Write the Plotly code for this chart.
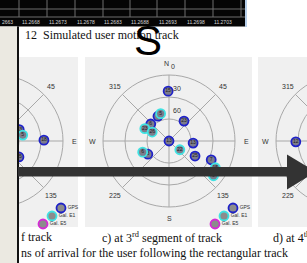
import numpy as np
import plotly.graph_objects as go

W, H = 307, 263
R = 66  # pixel radius of the elevation-0 circle

# ---------------- data ----------------
top_tick_labels = ["2663", "11.2668", "11.2673", "11.2678", "11.2683",
                   "11.2688", "11.2693", "11.2698", "11.2703"]

# panel b (2nd segment, partly visible)
gps_b_prn = ["18", "13", "25"]
gps_b_az = [89, 63, 126]
gps_b_el = [26, 56, 53]
gal_b_prn = ["5"]
gal_b_az = [77]
gal_b_el = [54]

# panel c (3rd segment)
gps_c_prn = ["15", "5", "6", "23", "13", "13", "3", "25", "7"]
gps_c_az = [359, 336, 313, 37, 0, 95, 238, 120, 114]
gps_c_el = [22, 53, 56, 56, 90, 57, 56, 49, 27]
gal_c_prn = ["5", "23", "26", "6", "22", "15", "9"]
gal_c_az = [343, 297, 298, 247, 129, 120, 128]
gal_c_el = [51, 53, 64, 51, 71, 17, 13]

# panel d (4th segment, partly visible)
gps_d_prn = ["12"]
gps_d_az = [269]
gps_d_el = [27]
gal_d_prn = []
gal_d_az = []
gal_d_el = []

legend_labels = ["GPS", "Gal. E1", "Gal. E5"]
angle_labels = ["0", "45", "E", "135", "S", "225", "W", "315"]
angle_dirs = [0, 45, 90, 135, 180, 225, 270, 315]
elev_labels = ["30", "60"]
elev_values = [30, 60]

captions_row1 = ["f track", "c) at 3<sup>rd</sup> segment of track",
                 "d) at 4<sup>th</sup>"]
caption_row2 = "ns of arrival for the user following the rectangular track"
title_text = "12  Simulated user motion track"

# ---------------- layout geometry ----------------
panels = {
    "b": dict(cx=-3, cy=141, x0=19, x1=78,
              gps=(gps_b_prn, gps_b_az, gps_b_el), gal=(gal_b_prn, gal_b_az, gal_b_el)),
    "c": dict(cx=169, cy=141, x0=85, x1=252,
              gps=(gps_c_prn, gps_c_az, gps_c_el), gal=(gal_c_prn, gal_c_az, gal_c_el)),
    "d": dict(cx=342, cy=141, x0=258, x1=307,
              gps=(gps_d_prn, gps_d_az, gps_d_el), gal=(gal_d_prn, gal_d_az, gal_d_el)),
}
PANEL_Y0, PANEL_Y1 = 57, 227

GPS_RING = "#1f22c8"
GAL_RING = "#3fe3e3"
E5_RING = "#d62ad6"
FILL = "#7c7c8c"
GRID = "#a8a8a8"
SANS = "Liberation Sans"
SERIF = "Liberation Serif"


def to_xy(cx, cy, az, el):
    az = np.radians(np.asarray(az, dtype=float))
    r = (90 - np.asarray(el, dtype=float)) / 90 * R
    return cx + r * np.sin(az), cy - r * np.cos(az)


fig = go.Figure()
shapes = []
annotations = []


def ann(x, y, text, size, color="#333333", family=SANS, xanchor="center"):
    annotations.append(dict(x=x, y=y, xref="x", yref="y", text=text, showarrow=False,
                            xanchor=xanchor, yanchor="middle",
                            font=dict(size=size, color=color, family=family)))


# ---- top dark window with axis ----
shapes.append(dict(type="rect", x0=0, x1=245, y0=0, y1=26.5, fillcolor="#050505",
                   line=dict(width=0), layer="below"))
shapes.append(dict(type="line", x0=246, x1=246, y0=0, y1=27,
                   line=dict(color="#b7cfea", width=2), layer="below"))
for yy in (9, 17):
    shapes.append(dict(type="line", x0=0, x1=245, y0=yy, y1=yy,
                       line=dict(color="#6e6e6e", width=1), layer="below"))
for xv in [19, 47, 75, 103, 130, 157, 185, 213, 241]:
    shapes.append(dict(type="line", x0=xv, x1=xv, y0=0, y1=17,
                       line=dict(color="#6e6e6e", width=1), layer="below"))
for xv, lab in zip([0, 20, 47, 75, 102, 129, 157, 185, 212], top_tick_labels):
    ann(xv, 22, lab, 5, color="#d8d8d8", xanchor="left")

# ---- panels ----
for key, p in panels.items():
    cx, cy = p["cx"], p["cy"]
    shapes.append(dict(type="rect", x0=p["x0"], x1=p["x1"], y0=PANEL_Y0, y1=PANEL_Y1,
                       fillcolor="#f0f0f0", line=dict(width=0), layer="below"))
    for el in (0, 30, 60):
        r = (90 - el) / 90 * R
        shapes.append(dict(type="circle", x0=cx - r, x1=cx + r, y0=cy - r, y1=cy + r,
                           line=dict(color=GRID, width=1), layer="below"))
    for a in angle_dirs:
        ex, ey = to_xy(cx, cy, a, 0)
        shapes.append(dict(type="line", x0=cx, y0=cy, x1=float(ex), y1=float(ey),
                           line=dict(color=GRID, width=1), layer="below"))
    # angle labels
    for lab, a in zip(angle_labels, angle_dirs):
        lx = cx + 77 * np.sin(np.radians(a))
        ly = cy - 77 * np.cos(np.radians(a))
        if lab == "0":
            lx += 4
            ly += 2
        if p["x0"] + 3 < lx < p["x1"] - 3:
            ann(float(lx), float(ly), lab, 7)
            if lab == "0":
                ann(float(lx) - 7, float(ly) - 3, "N", 7)
    for lab, ev in zip(elev_labels, elev_values):
        r = (90 - ev) / 90 * R
        lx, ly = cx + 8, cy - r - 9
        if p["x0"] + 3 < lx < p["x1"] - 3:
            ann(lx, ly, lab, 7)
    # satellites
    for (prn, az, el), ring in ((p["gps"], GPS_RING), (p["gal"], GAL_RING)):
        if len(prn) == 0:
            continue
        x, y = to_xy(cx, cy, az, el)
        fig.add_trace(go.Scatter(x=x, y=y, mode="markers+text", text=prn,
                                 textposition="middle center",
                                 textfont=dict(size=5, color="#1c1c1c", family=SANS),
                                 marker=dict(size=9, color=FILL, line=dict(color=ring, width=1.8)),
                                 hoverinfo="skip", showlegend=False))
    # legend (only when it lies inside the visible page)
    offs = [(64, 67), (55, 75), (46, 83)]
    rings = [GPS_RING, GAL_RING, E5_RING]
    lx = [cx + o[0] for o in offs]
    ly = [cy + o[1] for o in offs]
    if max(lx) + 25 < W:
        fig.add_trace(go.Scatter(x=lx, y=ly, mode="markers+text", text=legend_labels,
                                 textposition="middle right",
                                 textfont=dict(size=5, color="#333333", family=SANS),
                                 marker=dict(size=9, color="#8c8c8c",
                                             line=dict(color=rings, width=1.8)),
                                 hoverinfo="skip", showlegend=False))

# ---- left beige strip and black rule (over panel b) ----
shapes.append(dict(type="rect", x0=-1, x1=17, y0=26.5, y1=H + 1, fillcolor="#ebe9e1",
                   line=dict(width=0), layer="above"))
shapes.append(dict(type="rect", x0=17, x1=19, y0=26.5, y1=H + 1, fillcolor="#111111",
                   line=dict(width=0), layer="above"))

# ---- big arrow ----
shapes.append(dict(type="rect", x0=18, x1=289, y0=167, y1=176.5, fillcolor="#333333",
                   line=dict(width=0), layer="above"))
shapes.append(dict(type="path", path="M 287 154.5 L 316 171.8 L 287 189.5 Z",
                   fillcolor="#333333", line=dict(width=0), layer="above"))

# ---- texts ----
ann(23, 35, title_text, 12, color="#111111", family=SERIF, xanchor="left")
ann(19, 237, captions_row1[0], 12, color="#111111", family=SERIF, xanchor="left")
ann(100, 237, captions_row1[1], 12, color="#111111", family=SERIF, xanchor="left")
ann(271, 237, captions_row1[2], 12, color="#111111", family=SERIF, xanchor="left")
ann(19, 253, caption_row2, 12, color="#111111", family=SERIF, xanchor="left")
ann(148, 40, "S", 42, color="#000000", family=SANS)

fig.update_layout(
    width=W, height=H, autosize=False,
    margin=dict(l=0, r=0, t=0, b=0, pad=0),
    paper_bgcolor="white", plot_bgcolor="white",
    xaxis=dict(range=[0, W], visible=False, fixedrange=True),
    yaxis=dict(range=[H, 0], visible=False, fixedrange=True),
    shapes=shapes, annotations=annotations,
)

fig.write_html("out.html", config=dict(displayModeBar=False),
               post_script="document.body.style.margin='0';document.body.style.overflow='hidden';")
